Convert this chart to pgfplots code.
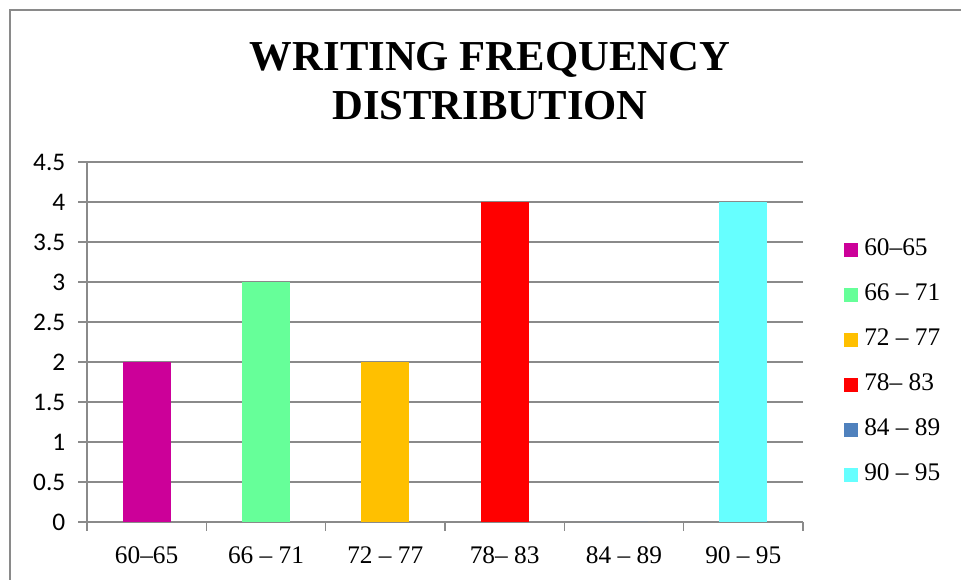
\documentclass[border=0pt]{standalone}
\usepackage{fontspec}
\setmainfont{Liberation Serif}
\newfontfamily\carlito{Carlito}
\usepackage{pgfplots}
\pgfplotsset{compat=1.18}
\definecolor{c1}{HTML}{CC0099}
\definecolor{c2}{HTML}{66FF99}
\definecolor{c3}{HTML}{FFC000}
\definecolor{c4}{HTML}{FF0000}
\definecolor{c5}{HTML}{4F81BD}
\definecolor{c6}{HTML}{66FFFF}
\definecolor{gridgray}{HTML}{8A8A8A}
\begin{document}
\begin{tikzpicture}
\useasboundingbox (0,0) rectangle (720.75pt,435pt);
\draw[gridgray, line width=1pt] (7.5pt,-20pt) -- (7.5pt,427.5pt) -- (760pt,427.5pt);
\node[font=\fontsize{32}{36.75}\selectfont\bfseries, align=center] at (367.5pt,374pt) {WRITING FREQUENCY\\DISTRIBUTION};
\begin{axis}[
  at={(65.25pt,43.5pt)}, anchor=south west, scale only axis,
  width=537pt, height=270pt,
  xmin=-0.5, xmax=5.5, ymin=0, ymax=4.5,
  ytick={0,0.5,1,1.5,2,2.5,3,3.5,4,4.5},
  yticklabels={0,0.5,1,1.5,2,2.5,3,3.5,4,4.5},
  xtick={-0.5,0.5,1.5,2.5,3.5,4.5,5.5},
  xticklabels={},
  extra x ticks={0,1,2,3,4,5},
  extra x tick labels={60–65,66 – 71,72 – 77,78– 83,84 – 89,90 – 95},
  extra x tick style={major tick length=0pt, xticklabel style={yshift=-15pt}},
  axis x line=bottom, axis y line=left,
  axis line style={-, gridgray, line width=0.9pt},
  tick align=outside,
  major tick length=6.75pt,
  tick style={gridgray, line width=0.9pt},
  ymajorgrids, grid style={gridgray, line width=0.9pt},
  x tick label style={font=\fontsize{19}{21}\selectfont},
  y tick label style={font=\carlito\fontsize{19}{21}\selectfont, xshift=-6pt},
  ybar, bar width=36pt,
  legend image code/.code={\fill[#1,draw=none] (0pt,-5.25pt) rectangle (10.5pt,5.25pt);},
  legend style={draw=none, fill=none, inner sep=0pt, at={(1.0573,0.4435)}, anchor=west,
    font=\fontsize{19}{21}\selectfont, row sep=16.75pt,
    nodes={inner sep=0pt, text height=13pt, text depth=4pt}},
  legend cell align=left,
]
\addplot[fill=c1, draw=none, bar shift=0pt] coordinates {(0,2)};
\addlegendentry{\hspace{4.5pt}60–65}
\addplot[fill=c2, draw=none, bar shift=0pt] coordinates {(1,3)};
\addlegendentry{\hspace{4.5pt}66 – 71}
\addplot[fill=c3, draw=none, bar shift=0pt] coordinates {(2,2)};
\addlegendentry{\hspace{4.5pt}72 – 77}
\addplot[fill=c4, draw=none, bar shift=0pt] coordinates {(3,4)};
\addlegendentry{\hspace{4.5pt}78– 83}
\addplot[fill=c5, draw=none, bar shift=0pt] coordinates {(4,0)};
\addlegendentry{\hspace{4.5pt}84 – 89}
\addplot[fill=c6, draw=none, bar shift=0pt] coordinates {(5,4)};
\addlegendentry{\hspace{4.5pt}90 – 95}
\end{axis}
\end{tikzpicture}
\end{document}
